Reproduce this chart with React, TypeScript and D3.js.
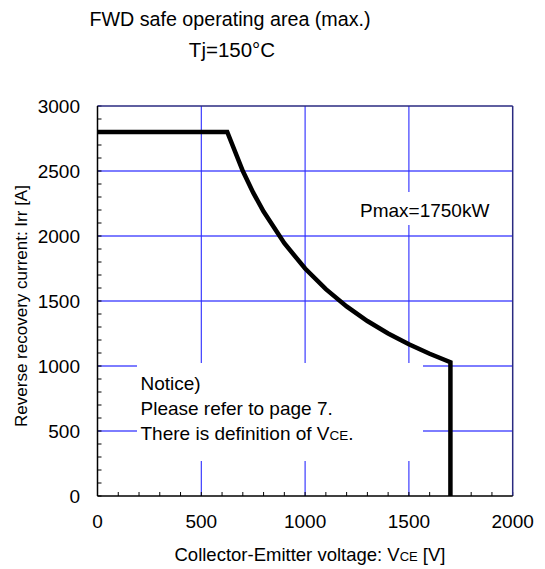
import React from "react";
import * as d3 from "d3";

const voltage = [0, 625, 700, 750, 800, 900, 1000, 1100, 1200, 1300, 1400, 1500, 1600, 1700, 1700];
const current = [2800, 2800, 2500, 2333, 2188, 1944, 1750, 1591, 1458, 1346, 1250, 1167, 1094, 1029, 0];
const xTicks = [0, 500, 1000, 1500, 2000];
const yTicks = [0, 500, 1000, 1500, 2000, 2500, 3000];
const minorX = d3.range(0, 2001, 100);
const minorY = d3.range(0, 3001, 100);

const W = 545, H = 569;
const L = 97.5, R = 512.7, T = 106, B = 496;
const FONT = "Liberation Sans, Arial, sans-serif";
const GRID_H = "#7d7dff";
const GRID_V = "#2b2bff";
const FRAME = "#2a2a80";

export default function App() {
  const x = d3.scaleLinear().domain([0, 2000]).range([L, R]);
  const y = d3.scaleLinear().domain([0, 3000]).range([B, T]);
  const pts: [number, number][] = voltage.map((v, i) => [v, current[i]]);
  const line = d3.line<[number, number]>().x(d => x(d[0])).y(d => y(d[1]));
  return (
    <svg width={W} height={H} style={{ position: "absolute", left: 0, top: 0 }} fontFamily={FONT}>
      <rect width={W} height={H} fill="#fff" />
      {yTicks.slice(1, -1).map(t => (
        <line key={"gy" + t} x1={L} x2={R} y1={y(t)} y2={y(t)} stroke={GRID_H} strokeWidth={2} />
      ))}
      {xTicks.slice(1, -1).map(t => (
        <line key={"gx" + t} x1={x(t)} x2={x(t)} y1={T} y2={B} stroke={GRID_V} strokeWidth={1.1} />
      ))}
      {minorX.map(t => (
        <line key={"mx" + t} x1={x(t)} x2={x(t)} y1={B} y2={B - 4} stroke="#000" strokeWidth={1} />
      ))}
      {minorY.map(t => (
        <line key={"my" + t} x1={L} x2={L + 4} y1={y(t)} y2={y(t)} stroke="#000" strokeWidth={1} />
      ))}
      <line x1={L} x2={R} y1={T} y2={T} stroke={FRAME} strokeWidth={1.5} />
      <line x1={R} x2={R} y1={T} y2={B} stroke={FRAME} strokeWidth={1.5} />
      <line x1={L} x2={L} y1={T} y2={B} stroke="#000" strokeWidth={1.5} />
      <line x1={L} x2={R} y1={B} y2={B} stroke="#000" strokeWidth={1.5} />
      {/* annotation backgrounds */}
      <rect x={137} y={363} width={286} height={98} fill="#fff" />
      <rect x={352} y={192} width={152} height={33} fill="#fff" />
      <path d={line(pts) || ""} fill="none" stroke="#000" strokeWidth={4.5} strokeLinejoin="miter" />
      {xTicks.map(t => (
        <text key={"xl" + t} x={x(t)} y={528} textAnchor="middle" fontSize={19}>{t}</text>
      ))}
      {yTicks.map(t => (
        <text key={"yl" + t} x={80} y={y(t)} dy="0.35em" textAnchor="end" fontSize={19}>{t}</text>
      ))}
      <text x={360} y={217} fontSize={19}>Pmax=1750kW</text>
      <text x={140.5} y={390} fontSize={19}>Notice)</text>
      <text x={140.5} y={414.5} fontSize={19}>Please refer to page 7.</text>
      <text x={140.5} y={440} fontSize={19}>There is definition of V<tspan fontSize={13.5}>CE</tspan>.</text>
      <text x={230} y={26} textAnchor="middle" fontSize={19.7}>FWD safe operating area (max.)</text>
      <text x={232} y={57} textAnchor="middle" fontSize={20.5}>Tj=150°C</text>
      <text x={310} y={561} textAnchor="middle" fontSize={18.5}>Collector-Emitter voltage: V<tspan fontSize={13}>CE</tspan> [V]</text>
      <text transform={`translate(27,${306}) rotate(-90)`} textAnchor="middle" fontSize={17}>Reverse recovery current: Irr [A]</text>
    </svg>
  );
}
